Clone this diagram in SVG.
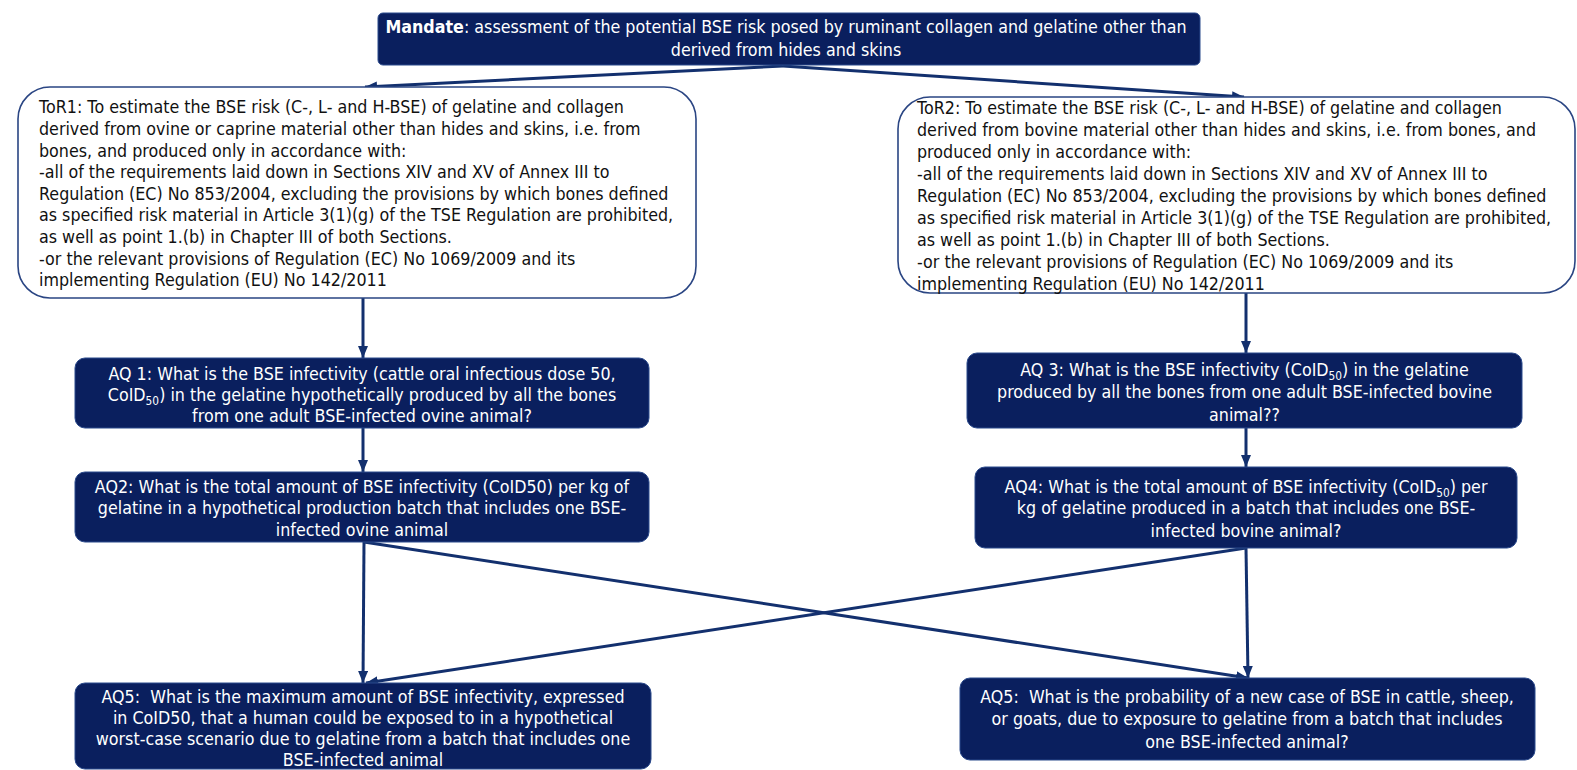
<svg xmlns="http://www.w3.org/2000/svg" width="1577" height="770" viewBox="0 0 1577 770">
<style>
.bg{fill:#ffffff}
.dark{fill:#0a1f5e;stroke:#2b4a8c;stroke-width:1}
.light{fill:#ffffff;stroke:#2a4583;stroke-width:1.6}
.t{font-family:"DejaVu Sans",Verdana,sans-serif;font-size:18px}
.w{fill:#ffffff}
.k{fill:#111111}
.c{text-anchor:middle}
.sub{font-size:12px}
.pre{white-space:pre}
.edge{stroke:#13306e;stroke-width:3;fill:none;marker-end:url(#ah)}
</style>
<defs>
<marker id="ah" markerUnits="userSpaceOnUse" markerWidth="12" markerHeight="10" refX="12" refY="5" orient="auto">
<path d="M0,0 L12,5 L0,10 z" fill="#13306e"/>
</marker>
</defs>
<rect class="bg" x="0" y="0" width="1577" height="770"/>
<g id="connectors">
<path class="edge" d="M783,66 L365,87"/>
<path class="edge" d="M783,66 L1244,97"/>
<path class="edge" d="M363,298 L363,358"/>
<path class="edge" d="M363,428 L363,472"/>
<path class="edge" d="M1246,293 L1246,353"/>
<path class="edge" d="M1246,428 L1246,467"/>
<path class="edge" d="M364,542 L363,683"/>
<path class="edge" d="M364,542 L1248,678"/>
<path class="edge" d="M1246,548 L366,683"/>
<path class="edge" d="M1246,548 L1248,678"/>
</g>
<g id="mandate">
<rect class="dark" x="378" y="13" width="822" height="52" rx="5"/>
<g transform="translate(786,0) scale(0.885,1)">
<text class="t w c" x="0" y="33"><tspan font-weight="bold">Mandate</tspan>: assessment of the potential BSE risk posed by ruminant collagen and gelatine other than</text>
<text class="t w c" x="0" y="56">derived from hides and skins</text>
</g>
</g>
<g id="tor1">
<rect class="light" x="18" y="87" width="678" height="211" rx="32"/>
<g transform="translate(39,0) scale(0.885,1)">
<text class="t k" x="0" y="113.5">ToR1: To estimate the BSE risk (C-, L- and H-BSE) of gelatine and collagen</text>
<text class="t k" x="0" y="135.1">derived from ovine or caprine material other than hides and skins, i.e. from</text>
<text class="t k" x="0" y="156.7">bones, and produced only in accordance with:</text>
<text class="t k" x="0" y="178.3">-all of the requirements laid down in Sections XIV and XV of Annex III to</text>
<text class="t k" x="0" y="199.9">Regulation (EC) No 853/2004, excluding the provisions by which bones defined</text>
<text class="t k" x="0" y="221.5">as specified risk material in Article 3(1)(g) of the TSE Regulation are prohibited,</text>
<text class="t k" x="0" y="243.1">as well as point 1.(b) in Chapter III of both Sections.</text>
<text class="t k" x="0" y="264.7">-or the relevant provisions of Regulation (EC) No 1069/2009 and its</text>
<text class="t k" x="0" y="286.3">implementing Regulation (EU) No 142/2011</text>
</g>
</g>
<g id="tor2">
<rect class="light" x="898" y="97" width="677" height="196" rx="32"/>
<g transform="translate(917,0) scale(0.885,1)">
<text class="t k" x="0" y="114.5">ToR2: To estimate the BSE risk (C-, L- and H-BSE) of gelatine and collagen</text>
<text class="t k" x="0" y="136.4">derived from bovine material other than hides and skins, i.e. from bones, and</text>
<text class="t k" x="0" y="158.3">produced only in accordance with:</text>
<text class="t k" x="0" y="180.2">-all of the requirements laid down in Sections XIV and XV of Annex III to</text>
<text class="t k" x="0" y="202.1">Regulation (EC) No 853/2004, excluding the provisions by which bones defined</text>
<text class="t k" x="0" y="224">as specified risk material in Article 3(1)(g) of the TSE Regulation are prohibited,</text>
<text class="t k" x="0" y="245.9">as well as point 1.(b) in Chapter III of both Sections.</text>
<text class="t k" x="0" y="267.8">-or the relevant provisions of Regulation (EC) No 1069/2009 and its</text>
<text class="t k" x="0" y="289.7">implementing Regulation (EU) No 142/2011</text>
</g>
</g>
<g id="aq1">
<rect class="dark" x="75" y="358" width="574" height="70" rx="10"/>
<g transform="translate(362,0) scale(0.885,1)">
<text class="t w c" x="0" y="380.5">AQ 1: What is the BSE infectivity (cattle oral infectious dose 50,</text>
<text class="t w c" x="0" y="401.5">CoID<tspan class="sub" dy="4">50</tspan><tspan dy="-4">) in the gelatine hypothetically produced by all the bones</tspan></text>
<text class="t w c" x="0" y="422.5">from one adult BSE-infected ovine animal?</text>
</g>
</g>
<g id="aq2">
<rect class="dark" x="75" y="472" width="574" height="70" rx="10"/>
<g transform="translate(362,0) scale(0.885,1)">
<text class="t w c" x="0" y="493.5">AQ2: What is the total amount of BSE infectivity (CoID50) per kg of</text>
<text class="t w c" x="0" y="514.5">gelatine in a hypothetical production batch that includes one BSE-</text>
<text class="t w c" x="0" y="536">infected ovine animal</text>
</g>
</g>
<g id="aq3">
<rect class="dark" x="967" y="353" width="555" height="75" rx="10"/>
<g transform="translate(1244.5,0) scale(0.885,1)">
<text class="t w c" x="0" y="376.5">AQ 3: What is the BSE infectivity (CoID<tspan class="sub" dy="4">50</tspan><tspan dy="-4">) in the gelatine</tspan></text>
<text class="t w c" x="0" y="398.5">produced by all the bones from one adult BSE-infected bovine</text>
<text class="t w c" x="0" y="421">animal??</text>
</g>
</g>
<g id="aq4">
<rect class="dark" x="975" y="467" width="542" height="81" rx="10"/>
<g transform="translate(1246,0) scale(0.885,1)">
<text class="t w c" x="0" y="493.5">AQ4: What is the total amount of BSE infectivity (CoID<tspan class="sub" dy="4">50</tspan><tspan dy="-4">) per</tspan></text>
<text class="t w c" x="0" y="514.5">kg of gelatine produced in a batch that includes one BSE-</text>
<text class="t w c" x="0" y="537.5">infected bovine animal?</text>
</g>
</g>
<g id="aq5-human">
<rect class="dark" x="75" y="683" width="576" height="86" rx="10"/>
<g transform="translate(363,0) scale(0.885,1)">
<text class="t w c pre" x="0" y="703">AQ5:  What is the maximum amount of BSE infectivity, expressed</text>
<text class="t w c" x="0" y="724">in CoID50, that a human could be exposed to in a hypothetical</text>
<text class="t w c" x="0" y="745">worst-case scenario due to gelatine from a batch that includes one</text>
<text class="t w c" x="0" y="766">BSE-infected animal</text>
</g>
</g>
<g id="aq5-animal">
<rect class="dark" x="960" y="678" width="575" height="82" rx="10"/>
<g transform="translate(1247,0) scale(0.885,1)">
<text class="t w c pre" x="0" y="703.5">AQ5:  What is the probability of a new case of BSE in cattle, sheep,</text>
<text class="t w c" x="0" y="725.5">or goats, due to exposure to gelatine from a batch that includes</text>
<text class="t w c" x="0" y="748">one BSE-infected animal?</text>
</g>
</g>
</svg>
